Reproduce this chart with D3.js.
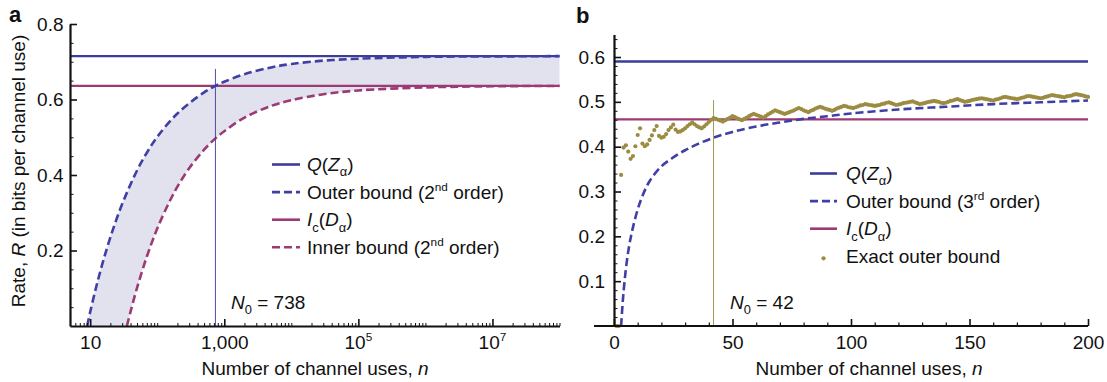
<!DOCTYPE html>
<html><head><meta charset="utf-8">
<script src="https://cdn.jsdelivr.net/npm/d3@7"></script>
<style>
body{margin:0;background:#fff}
svg{display:block}
text{font-family:"Liberation Sans",Arial,Helvetica,sans-serif;fill:#111}
</style>
</head><body>
<svg id="c" width="1107" height="382"></svg>
<script>
// ---------- Panel a data ----------
const aQ = 0.715;            // Q(Z_alpha)
const aIc = 0.636;           // I_c(D_alpha)
const aN0 = 738;
const aOuterN = [9,10,12,15,20,30,50,70,100,200,500,738,1000,2000,5000,1e4,3e4,1e5,1e6,1e7,1e8];
const aOuterR = [0.000,0.037,0.096,0.161,0.235,0.323,0.412,0.459,0.501,0.563,0.619,0.636,0.647,0.667,0.685,0.694,0.703,0.708,0.713,0.714,0.715];
const aInnerN = [35.3,40,50,70,100,150,200,300,500,738,1000,2000,5000,1e4,3e4,1e5,1e6,1e7,1e8];
const aInnerR = [0.000,0.038,0.101,0.184,0.258,0.327,0.369,0.418,0.467,0.497,0.516,0.552,0.583,0.598,0.614,0.624,0.632,0.635,0.636];
const aXTicks = [10,1000,1e5,1e7];
const aYTicks = [0.2,0.4,0.6,0.8];

// ---------- Panel b data ----------
const bQ = 0.59;
const bIc = 0.461;
const bN0 = 42;
const bOuterN = [3,3.5,4,5,6,7,8,10,12,15,20,25,30,35,42,50,60,70,80,90,100,120,140,160,180,200];
const bOuterR = [0.000,0.040,0.074,0.127,0.166,0.196,0.220,0.260,0.290,0.323,0.356,0.376,0.392,0.405,0.420,0.433,0.445,0.454,0.462,0.468,0.474,0.483,0.489,0.495,0.499,0.503];
const bExactR = [
0.000,0.000,0.337,0.398,0.403,0.389,0.373,0.379,0.401,0.426,
0.441,0.407,0.401,0.405,0.415,0.425,0.437,0.446,0.424,0.420,
0.422,0.428,0.437,0.443,0.449,0.438,0.433,0.434,0.437,0.441,
0.446,0.450,0.454,0.450,0.446,0.443,0.441,0.445,0.450,0.455,
0.460,0.464,0.462,0.460,0.458,0.456,0.459,0.462,0.465,0.468,
0.466,0.463,0.461,0.459,0.462,0.465,0.468,0.471,0.473,0.471,
0.469,0.467,0.465,0.468,0.472,0.475,0.478,0.481,0.479,0.477,
0.475,0.473,0.475,0.477,0.479,0.481,0.484,0.486,0.484,0.481,
0.479,0.477,0.480,0.482,0.485,0.487,0.489,0.487,0.485,0.483,
0.482,0.480,0.482,0.485,0.487,0.489,0.491,0.490,0.488,0.487,
0.486,0.488,0.490,0.492,0.493,0.495,0.494,0.493,0.492,0.491,
0.492,0.493,0.495,0.496,0.498,0.499,0.497,0.495,0.493,0.494,
0.495,0.497,0.498,0.499,0.500,0.501,0.499,0.497,0.495,0.496,
0.497,0.499,0.500,0.501,0.502,0.501,0.500,0.498,0.497,0.498,
0.500,0.502,0.503,0.505,0.506,0.504,0.502,0.500,0.501,0.502,
0.504,0.505,0.506,0.507,0.508,0.507,0.506,0.505,0.504,0.503,
0.505,0.506,0.508,0.510,0.511,0.510,0.509,0.508,0.507,0.506,
0.507,0.509,0.510,0.512,0.513,0.512,0.511,0.510,0.509,0.508,
0.509,0.511,0.512,0.514,0.515,0.514,0.513,0.512,0.511,0.510,
0.512,0.513,0.514,0.516,0.517,0.516,0.515,0.514,0.512,0.511];
const bExactN = d3.range(1, bExactR.length + 1);
const bXTicks = [0,50,100,150,200];
const bYTicks = [0.1,0.2,0.3,0.4,0.5,0.6];

// ---------- styles ----------
const BLUE = "#3c3c9a", BLUED = "#3f3fa6", MAG = "#9c3a74", OLIVE = "#9b8c42", FILL = "#e2e2ef";
const FS = 19;
const DASH = "8,4";

const svg = d3.select("#c");

function rich(g, x, y, parts, size, anchor) {
  const t = g.append("text").attr("x", x).attr("y", y).attr("font-size", size || FS);
  if (anchor) t.attr("text-anchor", anchor);
  let shift = 0;
  parts.forEach(p => {
    const s = t.append("tspan").text(p.t);
    if (p.i) s.attr("font-style", "italic");
    let target = 0;
    if (p.sub) { target = 0.28 * (size || FS); s.attr("font-size", (size || FS) * 0.68); }
    if (p.sup) { target = -0.4 * (size || FS); s.attr("font-size", (size || FS) * 0.62); }
    if (target !== shift) { s.attr("dy", target - shift); shift = target; }
  });
  return t;
}

// ================= Panel a =================
const ax = d3.scaleLog().domain([5, 1e8]).range([70, 559.5]);
const ay = d3.scaleLinear().domain([0, 0.8]).range([326, 24]);
const ga = svg.append("g");

const lineA = d3.line().x(d => ax(d[0])).y(d => ay(d[1])).curve(d3.curveCatmullRom.alpha(0.5));
const outerPts = aOuterN.map((n, i) => [n, aOuterR[i]]);
const innerPts = aInnerN.map((n, i) => [n, aInnerR[i]]);
const fillPath = lineA(outerPts) + "L" + lineA(innerPts.slice().reverse()).slice(1) +
  "L" + ax(aOuterN[0]) + "," + ay(0) + "Z";
ga.append("path").attr("d", fillPath).attr("fill", FILL);

ga.append("line").attr("x1", ax(5)).attr("x2", ax(1e8)).attr("y1", ay(aQ)).attr("y2", ay(aQ))
  .attr("stroke", BLUE).attr("stroke-width", 2.4);
ga.append("line").attr("x1", ax(5)).attr("x2", ax(1e8)).attr("y1", ay(aIc)).attr("y2", ay(aIc))
  .attr("stroke", MAG).attr("stroke-width", 2.4);
ga.append("path").attr("d", lineA(innerPts)).attr("fill", "none").attr("stroke", MAG)
  .attr("stroke-width", 2.6).attr("stroke-dasharray", DASH);
ga.append("path").attr("d", lineA(outerPts)).attr("fill", "none").attr("stroke", BLUED)
  .attr("stroke-width", 2.6).attr("stroke-dasharray", DASH);
ga.append("line").attr("x1", ax(aN0)).attr("x2", ax(aN0)).attr("y1", ay(0.681)).attr("y2", ay(0))
  .attr("stroke", BLUE).attr("stroke-width", 0.9);

// axes a
const minorA = [];
for (let d = 0; d <= 8; d++) for (let k = 1; k <= 9; k++) {
  const v = k * Math.pow(10, d);
  if (v >= 5 && v <= 1e8 && !aXTicks.includes(v)) minorA.push(v);
}
ga.append("g").attr("transform", "translate(0,326)")
  .call(d3.axisBottom(ax).tickValues(minorA).tickSize(-3).tickFormat("").tickSizeOuter(0))
  .call(g => g.select(".domain").remove())
  .call(g => g.selectAll("line").attr("stroke", "#111").attr("stroke-width", 1));
const xaA = ga.append("g").attr("transform", "translate(0,326)")
  .call(d3.axisBottom(ax).tickValues(aXTicks).tickSize(-7).tickPadding(9.5).tickSizeOuter(0)
    .tickFormat(d => d === 1000 ? "1,000" : d === 10 ? "10" : ""));
xaA.select(".domain").attr("stroke", "#111").attr("stroke-width", 2.2);
xaA.selectAll("line").attr("stroke", "#111").attr("stroke-width", 1.6);
xaA.selectAll("text").attr("font-size", FS).attr("font-family", null).attr("fill", "#111");
[[1e5, "5"], [1e7, "7"]].forEach(([v, e]) => {
  rich(ga, ax(v), 348.5, [{t: "10"}, {t: e, sup: true}], FS, "middle");
});

ga.append("g").attr("transform", "translate(70,0)")
  .call(d3.axisLeft(ay).tickValues(d3.range(1, 16).map(i => i * 0.05).filter(v => Math.abs(v * 5 - Math.round(v * 5)) > 1e-6))
    .tickSize(-3.5).tickFormat("").tickSizeOuter(0))
  .call(g => g.select(".domain").remove())
  .call(g => g.selectAll("line").attr("stroke", "#111").attr("stroke-width", 1));
const yaA = ga.append("g").attr("transform", "translate(70,0)")
  .call(d3.axisLeft(ay).tickValues(aYTicks).tickSize(-7).tickPadding(6.5).tickSizeOuter(0).tickFormat(d3.format(".1f")));
yaA.select(".domain").attr("stroke", "#111").attr("stroke-width", 2.2);
yaA.selectAll("line").attr("stroke", "#111").attr("stroke-width", 1.6);
yaA.selectAll("text").attr("font-size", FS).attr("font-family", null).attr("fill", "#111");

// titles a
rich(ga, 315, 374.5, [{t: "Number of channel uses, "}, {t: "n", i: true}], FS, "middle");
const yt = ga.append("g").attr("transform", "translate(24.5,171) rotate(-90)");
rich(yt, 0, 0, [{t: "Rate, "}, {t: "R", i: true}, {t: " (in bits per channel use)"}], FS, "middle");
ga.append("text").attr("x", 9).attr("y", 22).attr("font-size", 22).attr("font-weight", "bold").text("a");
rich(ga, 231, 308.5, [{t: "N", i: true}, {t: "0", sub: true}, {t: " = 738"}], FS);

// legend a
const legA = [
  {c: BLUE, dash: null, parts: [{t: "Q", i: true}, {t: "("}, {t: "Z", i: true}, {t: "α", sub: true}, {t: ")"}]},
  {c: BLUED, dash: DASH, parts: [{t: "Outer bound (2"}, {t: "nd", sup: true}, {t: " order)"}]},
  {c: MAG, dash: null, parts: [{t: "I", i: true}, {t: "c", sub: true}, {t: "("}, {t: "D", i: true}, {t: "α", sub: true}, {t: ")"}]},
  {c: MAG, dash: DASH, parts: [{t: "Inner bound (2"}, {t: "nd", sup: true}, {t: " order)"}]}
];
legA.forEach((it, i) => {
  const y = 164.5 + i * 27.6;
  const l = ga.append("line").attr("x1", 272).attr("x2", 300).attr("y1", y).attr("y2", y)
    .attr("stroke", it.c).attr("stroke-width", 2.6);
  if (it.dash) l.attr("stroke-dasharray", it.dash);
  rich(ga, 307, y + 6.6, it.parts, FS);
});

// ================= Panel b =================
const bx = d3.scaleLinear().domain([0, 200]).range([614, 1088]);
const by = d3.scaleLinear().domain([0, 0.65]).range([326, 34.6]);
const gb = svg.append("g");
const lineB = d3.line().x(d => bx(d[0])).y(d => by(d[1])).curve(d3.curveCatmullRom.alpha(0.5));

gb.append("line").attr("x1", bx(0)).attr("x2", bx(200)).attr("y1", by(bQ)).attr("y2", by(bQ))
  .attr("stroke", BLUE).attr("stroke-width", 2.4);
gb.append("line").attr("x1", bx(0)).attr("x2", bx(200)).attr("y1", by(bIc)).attr("y2", by(bIc))
  .attr("stroke", MAG).attr("stroke-width", 2.4);
gb.append("path").attr("d", lineB(bOuterN.map((n, i) => [n, bOuterR[i]]))).attr("fill", "none")
  .attr("stroke", BLUED).attr("stroke-width", 2.6).attr("stroke-dasharray", DASH);
gb.append("line").attr("x1", bx(bN0)).attr("x2", bx(bN0)).attr("y1", by(0.504)).attr("y2", by(0))
  .attr("stroke", OLIVE).attr("stroke-width", 0.9);
gb.append("g").selectAll("circle").data(bExactN).join("circle")
  .attr("cx", d => bx(d)).attr("cy", (d, i) => by(bExactR[i])).attr("r", 2.1).attr("fill", OLIVE);

// axes b
gb.append("g").attr("transform", "translate(0,326)")
  .call(d3.axisBottom(bx).tickValues(d3.range(10, 200, 10).filter(v => v % 50)).tickSize(-3.5).tickFormat("").tickSizeOuter(0))
  .call(g => g.select(".domain").remove())
  .call(g => g.selectAll("line").attr("stroke", "#111").attr("stroke-width", 1.2));
const xaB = gb.append("g").attr("transform", "translate(0,326)")
  .call(d3.axisBottom(bx).tickValues(bXTicks).tickSize(-7).tickPadding(9.5).tickSizeOuter(0).tickFormat(d3.format("d")));
xaB.select(".domain").attr("stroke", "#111").attr("stroke-width", 2.2).attr("d", "M" + (bx(0) - 20) + ",0H" + bx(200));
xaB.selectAll("line").attr("stroke", "#111").attr("stroke-width", 1.6);
xaB.selectAll("text").attr("font-size", FS).attr("font-family", null).attr("fill", "#111");

gb.append("g").attr("transform", "translate(614,0)")
  .call(d3.axisLeft(by).tickValues(d3.range(1, 33).map(i => i * 0.02).filter(v => Math.abs(v * 10 - Math.round(v * 10)) > 1e-6))
    .tickSize(-3.5).tickFormat("").tickSizeOuter(0))
  .call(g => g.select(".domain").remove())
  .call(g => g.selectAll("line").attr("stroke", "#111").attr("stroke-width", 1));
const yaB = gb.append("g").attr("transform", "translate(614,0)")
  .call(d3.axisLeft(by).tickValues(bYTicks).tickSize(-7).tickPadding(9).tickSizeOuter(0).tickFormat(d3.format(".1f")));
yaB.select(".domain").attr("stroke", "#111").attr("stroke-width", 2.2);
yaB.selectAll("line").attr("stroke", "#111").attr("stroke-width", 1.6);
yaB.selectAll("text").attr("font-size", FS).attr("font-family", null).attr("fill", "#111");

rich(gb, 869, 374.5, [{t: "Number of channel uses, "}, {t: "n", i: true}], FS, "middle");
gb.append("text").attr("x", 576).attr("y", 23).attr("font-size", 22).attr("font-weight", "bold").text("b");
rich(gb, 730, 308.5, [{t: "N", i: true}, {t: "0", sub: true}, {t: " = 42"}], FS);

const legB = [
  {c: BLUE, type: "line", parts: [{t: "Q", i: true}, {t: "("}, {t: "Z", i: true}, {t: "α", sub: true}, {t: ")"}]},
  {c: BLUED, type: "dash", parts: [{t: "Outer bound (3"}, {t: "rd", sup: true}, {t: " order)"}]},
  {c: MAG, type: "line", parts: [{t: "I", i: true}, {t: "c", sub: true}, {t: "("}, {t: "D", i: true}, {t: "α", sub: true}, {t: ")"}]},
  {c: OLIVE, type: "dot", parts: [{t: "Exact outer bound"}]}
];
legB.forEach((it, i) => {
  const y = 173.5 + i * 27.6;
  if (it.type === "dot") {
    gb.append("circle").attr("cx", 823.5).attr("cy", y + 2).attr("r", 2.1).attr("fill", it.c);
  } else {
    const l = gb.append("line").attr("x1", 810).attr("x2", 837).attr("y1", y).attr("y2", y)
      .attr("stroke", it.c).attr("stroke-width", 2.6);
    if (it.type === "dash") l.attr("stroke-dasharray", DASH);
  }
  rich(gb, 846, y + 6.6, it.parts, FS);
});
</script>
</body></html>
